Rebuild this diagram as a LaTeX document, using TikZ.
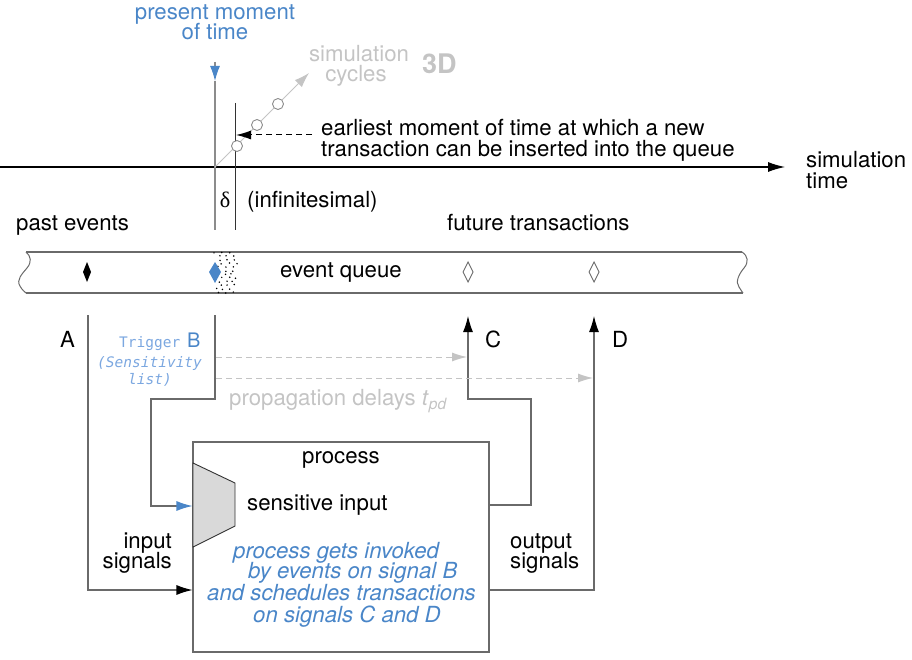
\documentclass[tikz,border=0pt]{standalone}
\usepackage{fontspec}
\setmainfont{TeX Gyre Heros}
\newfontfamily\monof{DejaVu Sans Mono}
\newfontfamily\serf{Liberation Serif}
\usetikzlibrary{arrows.meta}
\definecolor{myblue}{HTML}{4A86C8}
\definecolor{lightblue}{HTML}{7BA7E0}
\definecolor{ltgray}{HTML}{C4C4C4}
\definecolor{lngray}{HTML}{6A6A6A}
\definecolor{midgray}{HTML}{8C8C8C}
\definecolor{trapfill}{HTML}{D9D9D9}
\newcommand\myfs{\fontsize{22.2}{26}\selectfont}
\begin{document}
\begin{tikzpicture}[x=1pt,y=-1pt,
  txt/.style={inner sep=0pt, font=\myfs, anchor=base},
  txtw/.style={txt, anchor=base west},
  txte/.style={txt, anchor=base east},
  bluetxt/.style={txtw, text=myblue, font=\myfs\itshape},
  graytxt/.style={txt, text=ltgray},
  conn/.style={draw=lngray, line width=1.1pt},
  tip/.style={-{Latex[length=16pt,width=10pt,color=black]}},
  bluetip/.style={-{Latex[length=16pt,width=10pt,color=myblue]}},
  graytip/.style={-{Latex[length=15pt,width=9pt,color=ltgray]}},
  delay/.style={draw=ltgray, line width=1pt, dash pattern=on 6pt off 4pt},
  ring/.style={draw=midgray, fill=white, line width=0.9pt},
  diam/.style={line width=0.9pt}
]
\useasboundingbox (0,0) rectangle (912,660);

% ---------- top texts ----------
\node[txt, text=myblue] (pm1) at (215,20) {present moment};
\node[txt, text=myblue] (pm2) at (215,40) {of time};
\node[graytxt] (sc1) at (359,62) {simulation};
\node[graytxt] (sc2) at (356,82) {cycles};
\node[txtw, text=ltgray, font=\fontsize{27}{30}\selectfont\bfseries] (threeD) at (422,74) {3D};
\node[txtw] (ea1) at (321,136) {earliest moment of time at which a new};
\node[txtw] (ea2) at (321,157) {transaction can be inserted into the queue};
\node[txtw] (st1) at (806,168) {simulation};
\node[txtw] (st2) at (806,189) {time};
\node[txt, font=\myfs\serf] (delta) at (225,208) {δ};
\node[txtw] (infi) at (247,208) {(infinitesimal)};
\node[txtw] (past) at (16,231) {past events};
\node[txtw] (fut) at (447,231) {future transactions};

% ---------- time axis ----------
\coordinate (tl0) at (0,167);
\coordinate (tl1) at (785,167);
\draw[line width=1.1pt, -{Latex[length=17pt,width=10pt]}] (tl0) -- (tl1);

% present moment line
\coordinate (pmA) at (215,62);
\coordinate (pmB) at (215,81);
\coordinate (pmC) at (215,230);
\draw[draw=midgray, line width=1.1pt, -{Latex[length=15pt,width=10pt,color=myblue]}] (pmA) -- (pmB);
\draw[draw=midgray, line width=1.1pt] (pmB) -- (pmC);
% earliest moment line
\coordinate (emA) at (235,103);
\coordinate (emB) at (235,230);
\draw[line width=1pt, draw=black!80] (emA) -- (emB);

% simulation cycles arrow
\coordinate (cyc0) at (215,167);
\coordinate (cyc1) at (309,73);
\draw[draw=ltgray, line width=1pt, -{Latex[length=15pt,width=10pt]}] (cyc0) -- (cyc1);
\draw[ring] (237,146) circle (5.5);
\draw[ring] (257,125) circle (5.5);
\draw[ring] (278,104) circle (5.5);

% earliest arrow
\coordinate (eaS) at (312,135);
\coordinate (eaT) at (236,135);
\draw[line width=1pt, dash pattern=on 6pt off 4pt, -{Latex[length=15pt,width=9pt]}] (eaS) -- (eaT);

% ---------- event queue band ----------
\draw[draw=lngray, line width=1.1pt] (26,252) -- (742,252);
\draw[draw=lngray, line width=1.1pt] (26,293) -- (743,293);
\draw[draw=lngray, line width=1pt] (26,252) .. controls (31,256) and (32,262) .. (27,268)
  .. controls (22,274) and (16,280) .. (20,286) .. controls (22,290) and (25,292) .. (26,293);
\draw[draw=lngray, line width=1pt] (742,252) .. controls (748,256) and (749,262) .. (744,268)
  .. controls (739,274) and (735,282) .. (739,287) .. controls (741,290) and (742,292) .. (743,293);
\node[txtw] (eq) at (280,277) {event queue};

% dotted present region
\pgfmathsetseed{31}
\foreach \r in {0,...,11}{
  \foreach \c in {0,...,2}{
    \pgfmathsetmacro{\yy}{252+3.6*\r+1.5*rnd}
    \pgfmathsetmacro{\xx}{214+4*abs(sin(\r*35))+7*\c+3*rnd+2.5*mod(\r,2)}
    \fill[black] (\xx,\yy) circle (0.85);
  }
}
% diamonds
\fill[black] (87,262) -- (91,272) -- (87,282) -- (83,272) -- cycle;
\fill[myblue] (215,262) -- (221,272) -- (215,283) -- (209,272) -- cycle;
\draw[diam, draw=lngray] (468,262) -- (473,272) -- (468,282) -- (463,272) -- cycle;
\draw[diam, draw=lngray] (594,262) -- (599,272) -- (594,282) -- (589,272) -- cycle;

% ---------- signal labels ----------
\node[txtw] (lA) at (60,347) {A};
\node[txtw] (lC) at (485,347) {C};
\node[txtw] (lD) at (612,347) {D};
\node[txtw, text=lightblue, font=\fontsize{14.5}{16}\selectfont\monof] (trig) at (119,347) {Trigger};
\node[txtw, text=myblue, font=\fontsize{20}{22}\selectfont] (lB) at (187,347) {B};
\node[txtw, text=lightblue, font=\fontsize{14.5}{16}\selectfont\monof\itshape] (sens1) at (97,367) {(Sensitivity};
\node[txtw, text=lightblue, font=\fontsize{14.5}{16}\selectfont\monof\itshape] (sens2) at (128,384) {list)};
\node[txtw, text=ltgray] (prop) at (229,405) {propagation delays \textit{t}\textsubscript{\textit{pd}}};

% ---------- process ----------
\node[draw=lngray, line width=1.1pt, minimum width=296pt, minimum height=210pt, inner sep=0pt] (proc) at (341,547) {};
\draw[draw=black!80, fill=trapfill, line width=0.9pt] (193,463) -- (235,483) -- (235,526) -- (193,547) -- cycle;
\node[txt] (ptitle) at (341,463) {process};
\node[txtw] (sensin) at (247,510) {sensitive input};
\node[bluetxt] (b1) at (233,558) {process gets invoked};
\node[bluetxt] (b2) at (248,578) {by events on signal B};
\node[bluetxt] (b3) at (207,600) {and schedules transactions};
\node[bluetxt] (b4) at (253,622) {on signals C and D};
\node[txte] (in1) at (172,548) {input};
\node[txte] (in2) at (172,568) {signals};
\node[txtw] (out1) at (510,548) {output};
\node[txtw] (out2) at (510,568) {signals};

% ---------- connectors ----------
\coordinate (Atop) at (88,315);
\coordinate (Ain) at (proc.west |- 0,590);
\draw[conn, tip] (Atop) |- (Ain);

\coordinate (Btop) at (215,315);
\coordinate (Bin) at (proc.west |- 0,506);
\draw[conn, bluetip] (Btop) -- (215,399) -| (151,506) -- (Bin);

\coordinate (Cout) at (proc.east |- 0,505);
\coordinate (Ctop) at (468,316);
\draw[conn, tip] (Cout) -- (531,505) |- (468,399) -- (Ctop);

\coordinate (Dout) at (proc.east |- 0,590);
\coordinate (Dtop) at (594,316);
\draw[conn, tip] (Dout) -| (Dtop);

\coordinate (dC0) at (216,357);
\coordinate (dC1) at (467,357);
\coordinate (dD0) at (216,378);
\coordinate (dD1) at (593,378);
\draw[delay, graytip] (dC0) -- (dC1);
\draw[delay, graytip] (dD0) -- (dD1);
\end{tikzpicture}
\end{document}
